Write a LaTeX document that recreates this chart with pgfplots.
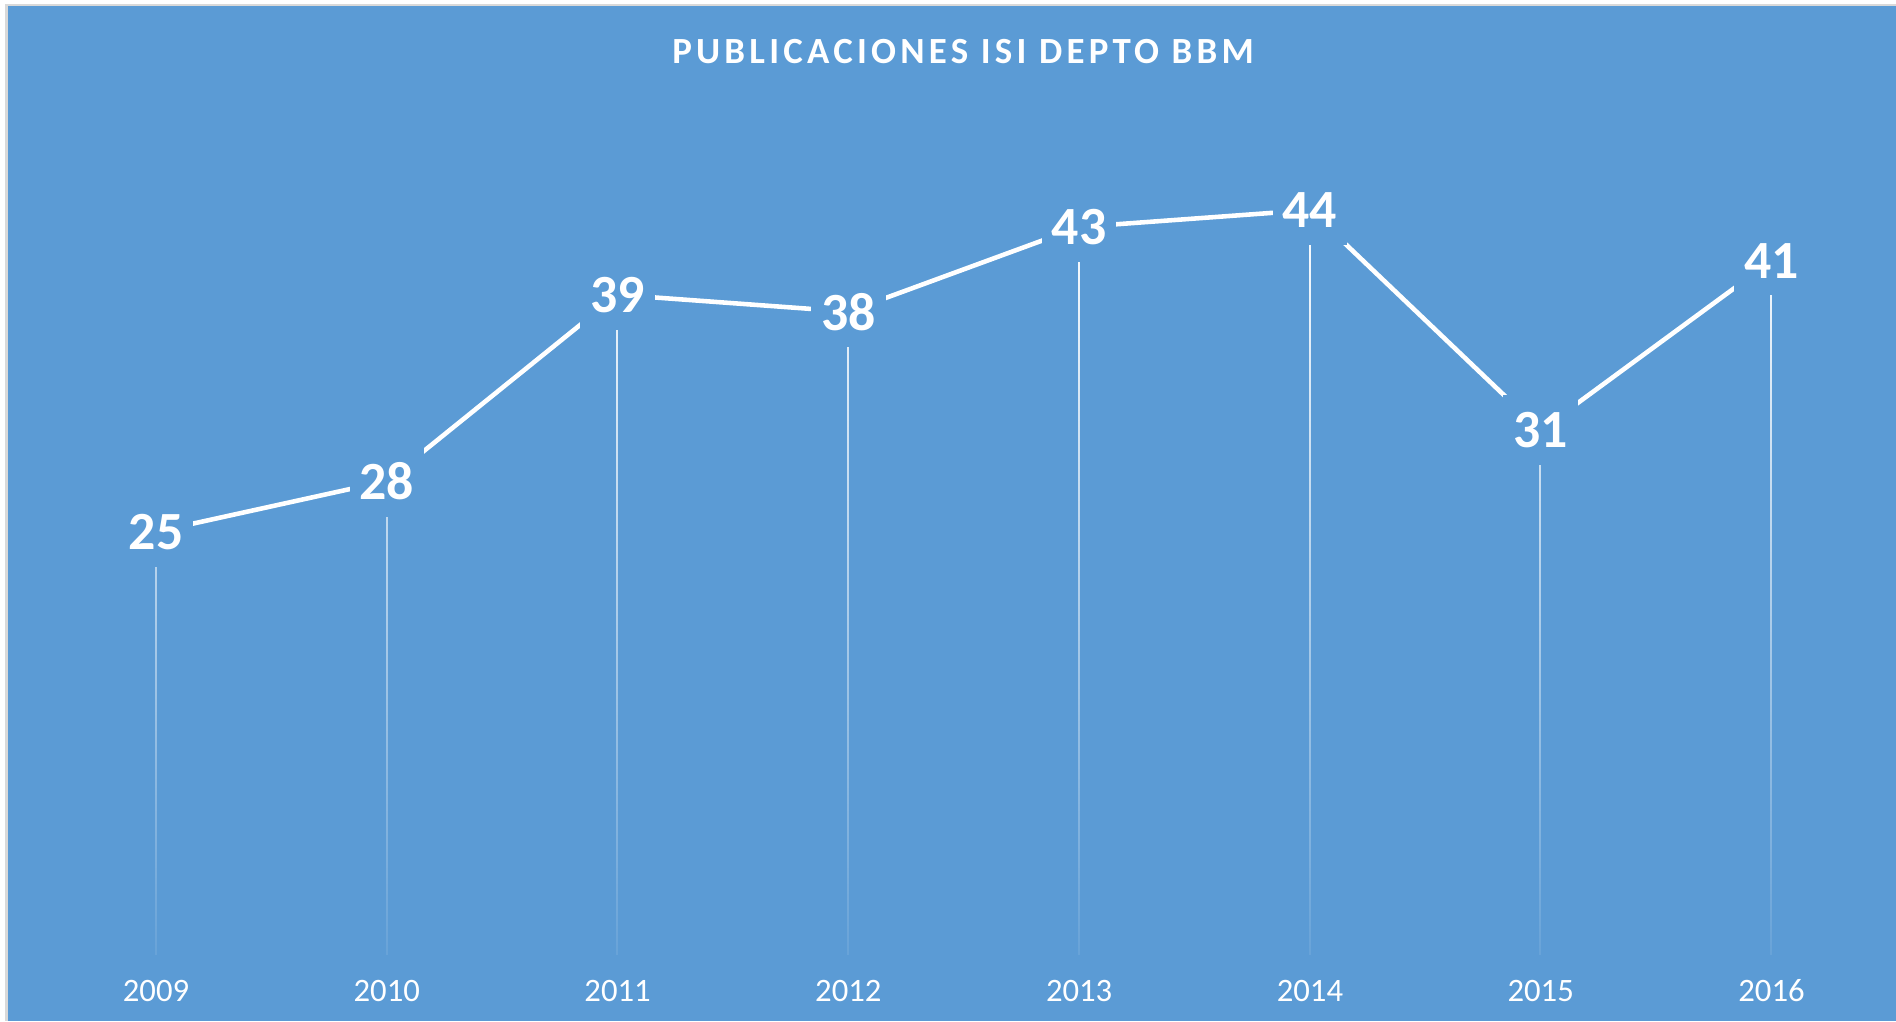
\documentclass[border=0pt]{standalone}
\usepackage{pgfplots}
\pgfplotsset{compat=1.18}
\usepackage{fontspec}
\setmainfont{Carlito}
\newfontfamily\titlefont[LetterSpace=11.5]{Carlito}
\usetikzlibrary{fadings}
\definecolor{bg}{RGB}{91,155,213}
\definecolor{edge}{RGB}{217,217,217}
\tikzfading[name=dropfade, top color=transparent!0, middle color=transparent!15, bottom color=transparent!92]
\pgfplotstableread{
x y
0 25
1 28
2 39
3 38
4 43
5 44
6 31
7 41
}\datatable
\begin{document}
\begin{tikzpicture}
\fill[white] (0,0) rectangle (18.96,10.21);
\fill[edge] (0.05,0) rectangle (18.96,10.17);
\fill[bg] (0.08,0) rectangle (18.96,10.15);
\path[use as bounding box] (0,0) rectangle (18.96,10.21);
\node[white, font=\fontsize{10.5}{12}\titlefont\bfseries] at (9.63,9.69) {PUBLICACIONES ISI DEPTO BBM};
\begin{axis}[
  at={(0.406cm,0.66cm)}, anchor=south west,
  scale only axis, width=18.463cm, height=8.465cm,
  xmin=-0.5, xmax=7.5, ymin=0, ymax=50,
  axis line style={draw=none},
  ytick=\empty,
  xtick={0,...,7},
  xticklabels={2009,2010,2011,2012,2013,2014,2015,2016},
  major tick length=0pt,
  xticklabel style={text=white, font=\fontsize{9.3}{11}\selectfont, anchor=center, yshift=-0.36cm},
  /pgf/number format/assume math mode=true,
  clip=false,
]
\addplot[ycomb, white, line width=0.55pt, path fading=dropfade, mark=none] table[x=x,y=y] {\datatable};
\addplot[white, line width=1.3pt, mark=none, nodes near coords,
  every node near coord/.append style={anchor=center, fill=bg, text=white,
    font=\fontsize{15.3}{18}\selectfont\bfseries, inner xsep=0.1cm, inner ysep=0.17cm}]
  table[x=x,y=y] {\datatable};
\end{axis}
\end{tikzpicture}
\end{document}
